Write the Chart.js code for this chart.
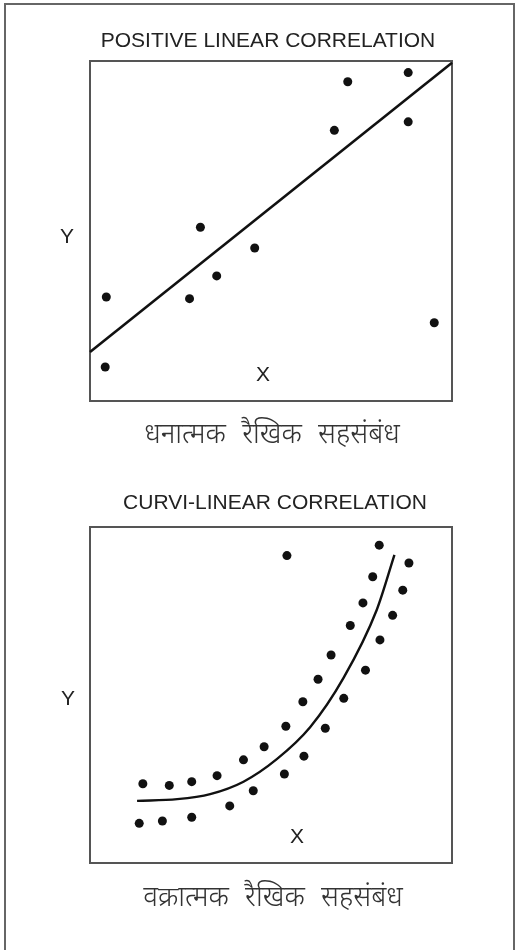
<!DOCTYPE html>
<html>
<head>
<meta charset="utf-8">
<script src="https://cdn.jsdelivr.net/npm/chart.js@4.4.1/dist/chart.umd.min.js"></script>
<style>
  body { margin: 0; background: #fff; }
  #page { position: relative; width: 516px; height: 950px; overflow: hidden; }
  #frame { position: absolute; left: 4px; top: 3px; width: 507px; height: 960px; border: 2px solid #666; }
  canvas { position: absolute; left: 0; }
  .lbl { position: absolute; color: #222; font-family: "Liberation Sans", Arial, sans-serif; font-size: 21px; line-height: 24px; white-space: nowrap; transform: translate(-50%, -50%); }
  .hi { font-family: "Noto Sans", "Noto Sans Devanagari", "Lohit Devanagari", sans-serif; font-size: 28px; font-weight: 300; word-spacing: 9px; line-height: 34px; color: #333; }
</style>
</head>
<body>
<div id="page">
  <div id="frame"></div>
  <canvas id="linearChart" width="516" height="470" style="top:0"></canvas>
  <canvas id="curveChart" width="516" height="480" style="top:470px"></canvas>

  <div class="lbl" style="left:268px; top:40px">POSITIVE LINEAR CORRELATION</div>
  <div class="lbl" style="left:67px; top:236px">Y</div>
  <div class="lbl" style="left:263px; top:374px">X</div>
  <div class="lbl hi" style="left:272px; top:432px">धनात्मक रैखिक सहसंबंध</div>

  <div class="lbl" style="left:275px; top:502px">CURVI-LINEAR CORRELATION</div>
  <div class="lbl" style="left:68px; top:698px">Y</div>
  <div class="lbl" style="left:297px; top:836px">X</div>
  <div class="lbl hi" style="left:273px; top:895px">वक्रात्मक रैखिक सहसंबंध</div>
</div>

<script>
// ==========================================
// DATA
// ==========================================

// positive linear correlation: scatter points and trend line
const linX = [87.9, 71.2, 67.5, 87.9, 30.5, 45.5, 35.0, 4.5, 27.5, 95.1, 4.2];
const linY = [96.6, 93.9, 79.6, 82.1, 51.1, 45.0, 36.8, 30.6, 30.1, 23.0, 10.0];
const linLineX = [0, 100];
const linLineY = [14.4, 99.5];

// curvi-linear correlation: scatter points and curve
const curX = [54.4, 79.9, 88.1, 78.1, 86.4, 75.4, 83.6, 71.9, 80.1, 66.6, 76.1, 63.0, 70.1, 58.8, 65.0,
              54.1, 48.1, 59.1, 42.4, 53.7, 35.1, 28.1, 21.9, 14.6, 45.1, 38.6, 28.1, 20.0, 13.6];
const curY = [91.5, 94.6, 89.3, 85.2, 81.2, 77.4, 73.7, 70.7, 66.4, 61.9, 57.4, 54.7, 49.0, 48.0, 40.1,
              40.7, 34.6, 31.8, 30.7, 26.5, 26.0, 24.2, 23.1, 23.6, 21.5, 17.0, 13.6, 12.5, 11.8];
const curLineX = [13.0, 24.1, 33.2, 42.4, 51.6, 60.8, 70.0, 79.2, 84.1];
const curLineY = [18.5, 19.0, 20.5, 24.2, 30.9, 40.4, 55.0, 75.3, 91.7];

const toPoints = (xs, ys) => xs.map((x, i) => ({ x: x, y: ys[i] }));

// ==========================================
// PLOT FRAME PLUGIN
// ==========================================

const boxFrame = {
    id: "boxFrame",
    beforeDatasetsDraw(chart) {
        const a = chart.chartArea;
        const ctx = chart.ctx;
        ctx.save();
        ctx.strokeStyle = "#555";
        ctx.lineWidth = 2;
        ctx.strokeRect(a.left, a.top, a.right - a.left, a.bottom - a.top);
        ctx.restore();
    }
};

function makeOptions(padding) {
    return {
        responsive: false,
        animation: false,
        layout: { padding: padding },
        plugins: {
            legend: { display: false },
            tooltip: { enabled: false }
        },
        scales: {
            x: { type: "linear", min: 0, max: 100, display: false },
            y: { type: "linear", min: 0, max: 100, display: false }
        }
    };
}

// ==========================================
// POSITIVE LINEAR CORRELATION
// ==========================================

new Chart(document.getElementById("linearChart"), {
    type: "scatter",
    data: {
        datasets: [{
            type: "line",
            data: toPoints(linLineX, linLineY),
            borderColor: "#111",
            borderWidth: 2.6,
            pointRadius: 0,
            fill: false,
            clip: false
        }, {
            data: toPoints(linX, linY),
            backgroundColor: "#111",
            borderWidth: 0,
            pointRadius: 4.5,
            clip: false
        }]
    },
    options: makeOptions({ left: 90, right: 64, top: 61, bottom: 69 }),
    plugins: [boxFrame]
});

// ==========================================
// CURVI-LINEAR CORRELATION
// ==========================================

new Chart(document.getElementById("curveChart"), {
    type: "scatter",
    data: {
        datasets: [{
            type: "line",
            data: toPoints(curLineX, curLineY),
            borderColor: "#111",
            borderWidth: 2.4,
            pointRadius: 0,
            cubicInterpolationMode: "monotone",
            fill: false,
            clip: false
        }, {
            data: toPoints(curX, curY),
            backgroundColor: "#111",
            borderWidth: 0,
            pointRadius: 4.5,
            clip: false
        }]
    },
    options: makeOptions({ left: 90, right: 64, top: 57, bottom: 87 }),
    plugins: [boxFrame]
});
</script>
</body>
</html>
